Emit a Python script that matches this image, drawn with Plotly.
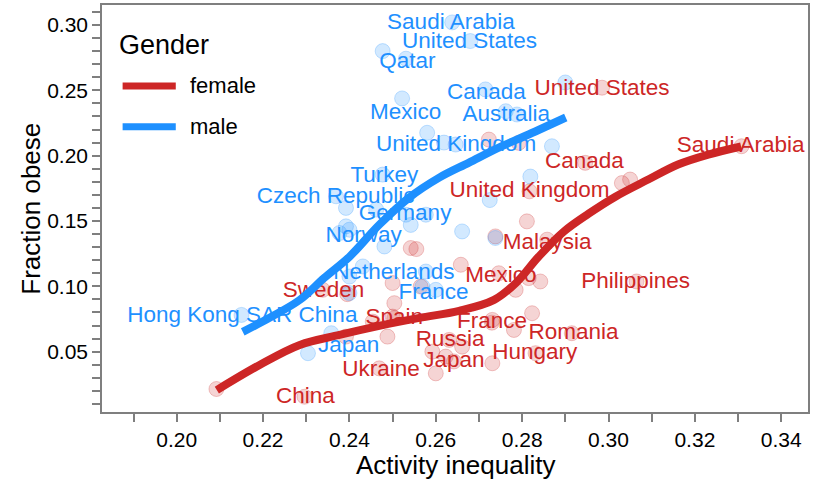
import plotly.graph_objects as go

# colours from the reference
RED = "#CD2626"
BLUE = "#1E90FF"
FONT = "Liberation Sans, Arial, sans-serif"

# --- female (red) points: activity inequality vs fraction obese ---
female_x = [0.2985, 0.3308, 0.2946, 0.2817, 0.2858, 0.2746, 0.3065, 0.2338, 0.2504, 0.2730,
            0.2915, 0.2631, 0.2831, 0.2642, 0.2469, 0.2296, 0.2092, 0.2723, 0.2792, 0.3031,
            0.3050, 0.2542, 0.2555, 0.2738, 0.2811, 0.2658, 0.2815, 0.2842, 0.2785, 0.2500,
            0.2565, 0.2504, 0.2500, 0.2454, 0.2488, 0.2731, 0.2823, 0.2781, 0.2661, 0.2592,
            0.2623, 0.2731, 0.2600, 0.2392, 0.2395]
female_y = [0.2520, 0.2072, 0.1945, 0.1727, 0.1357, 0.1100, 0.1037, 0.0973, 0.0756, 0.0722,
            0.0641, 0.0590, 0.0488, 0.0425, 0.0372, 0.0155, 0.0214, 0.2123, 0.2098, 0.1790,
            0.1817, 0.1293, 0.1285, 0.1382, 0.1497, 0.1165, 0.1063, 0.1037, 0.0973, 0.1025,
            0.0998, 0.0871, 0.0768, 0.0730, 0.0615, 0.0743, 0.0794, 0.0666, 0.0538, 0.0500,
            0.0462, 0.0411, 0.0334, 0.0615, 0.0940]

# --- male (blue) points ---
male_x = [0.2638, 0.2680, 0.2477, 0.2531, 0.2900, 0.2715, 0.2522, 0.2762, 0.2788, 0.2580,
          0.2619, 0.2646, 0.2869, 0.2819, 0.2477, 0.2369, 0.2462, 0.2531, 0.2577, 0.2542,
          0.2400, 0.2392, 0.2377, 0.2661, 0.2481, 0.2725, 0.2738, 0.2577, 0.2569, 0.2600,
          0.2400, 0.2431, 0.2400, 0.2150, 0.2358, 0.2304, 0.2392]
male_y = [0.3020, 0.2877, 0.2800, 0.2742, 0.2560, 0.2507, 0.2438, 0.2340, 0.2315, 0.2175,
          0.2100, 0.2085, 0.2072, 0.1840, 0.1855, 0.1689, 0.1587, 0.1548, 0.1548, 0.1470,
          0.1433, 0.1459, 0.1408, 0.1420, 0.1305, 0.1660, 0.1370, 0.1113, 0.0998, 0.0973,
          0.1075, 0.1152, 0.0948, 0.0781, 0.0641, 0.0488, 0.1600]

# --- country labels ---
female_labels = ["United States", "Saudi Arabia", "Canada", "United Kingdom", "Malaysia",
                 "Mexico", "Philippines", "Sweden", "Spain", "France", "Romania", "Russia",
                 "Hungary", "Japan", "Ukraine", "China"]
female_label_x = [0.2985, 0.3306, 0.2944, 0.2817, 0.2858, 0.2751, 0.3063, 0.2340, 0.2504,
                  0.2730, 0.2919, 0.2633, 0.2829, 0.2642, 0.2473, 0.2298]
female_label_y = [0.2507, 0.2072, 0.1945, 0.1727, 0.1331, 0.1075, 0.1029, 0.0960, 0.0756,
                  0.0722, 0.0636, 0.0584, 0.0488, 0.0423, 0.0360, 0.0150]

male_labels = ["Saudi Arabia", "United States", "Qatar", "Canada", "Mexico", "Australia",
               "United Kingdom", "Turkey", "Czech Republic", "Germany", "Norway",
               "Netherlands", "France", "Hong Kong SAR China", "Japan"]
male_label_x = [0.2635, 0.2678, 0.2534, 0.2717, 0.2530, 0.2763, 0.2647, 0.2481, 0.2368,
                0.2529, 0.2433, 0.2503, 0.2595, 0.2152, 0.2398]
male_label_y = [0.3014, 0.2870, 0.2712, 0.2476, 0.2320, 0.2307, 0.2080, 0.1842, 0.1684,
                0.1548, 0.1382, 0.1101, 0.0948, 0.0768, 0.0538]

# --- smoothed trend lines ---
female_fit_x = [0.2093, 0.2192, 0.2285, 0.2377, 0.2469, 0.2562, 0.2654, 0.2735, 0.2786,
                0.2838, 0.2896, 0.2954, 0.3016, 0.3092, 0.3161, 0.3231, 0.3307]
female_fit_y = [0.0206, 0.0398, 0.0551, 0.0628, 0.0697, 0.0758, 0.0812, 0.0896, 0.1027,
                0.1226, 0.1418, 0.1556, 0.1686, 0.1817, 0.1932, 0.2008, 0.2070]
male_fit_x = [0.2153, 0.2215, 0.2285, 0.2342, 0.2400, 0.2469, 0.2538, 0.2608, 0.2677,
              0.2746, 0.2815, 0.2901]
male_fit_y = [0.0651, 0.0759, 0.0896, 0.1065, 0.1226, 0.1471, 0.1678, 0.1832, 0.1947,
              0.2062, 0.2162, 0.2292]

genders = ["female", "male"]
gender_colors = [RED, BLUE]

fig = go.Figure()

# points
for xs, ys, rgb in [(female_x, female_y, "205,38,38"), (male_x, male_y, "30,144,255")]:
    fig.add_trace(go.Scatter(
        x=xs, y=ys, mode="markers", showlegend=False, hoverinfo="skip",
        marker=dict(size=15, color="rgba({},0.2)".format(rgb),
                    line=dict(width=1, color="rgba({},0.25)".format(rgb)))))

# labels
for names, xs, ys, col in [(female_labels, female_label_x, female_label_y, RED),
                           (male_labels, male_label_x, male_label_y, BLUE)]:
    fig.add_trace(go.Scatter(
        x=xs, y=ys, text=names, mode="text", showlegend=False, hoverinfo="skip",
        textposition="middle center",
        textfont=dict(family=FONT, size=22.5, color=col)))

# trend lines
fig.add_trace(go.Scatter(x=female_fit_x, y=female_fit_y, mode="lines", showlegend=False,
                         line=dict(color=RED, width=8, shape="spline")))
fig.add_trace(go.Scatter(x=male_fit_x, y=male_fit_y, mode="lines", showlegend=False,
                         line=dict(color=BLUE, width=8, shape="spline")))

# legend drawn by hand so the key lines get ggplot-like length and spacing
fig.add_annotation(x=0.0208, y=0.9017, xref="paper", yref="paper", text="Gender",
                   showarrow=False, xanchor="left", yanchor="middle",
                   font=dict(family=FONT, size=27, color="black"))
for i, (g, col) in enumerate(zip(genders, gender_colors)):
    ky = 0.801 - i * 0.1
    fig.add_shape(type="line", xref="paper", yref="paper", x0=0.0292, x1=0.1045,
                  y0=ky, y1=ky, line=dict(color=col, width=7))
    fig.add_annotation(x=0.1219, y=ky, xref="paper", yref="paper", text=g,
                       showarrow=False, xanchor="left", yanchor="middle",
                       font=dict(family=FONT, size=22, color="black"))

# axis titles
fig.add_annotation(x=0.5, y=-0.1302, xref="paper", yref="paper", text="Activity inequality",
                   showarrow=False, xanchor="center", yanchor="middle",
                   font=dict(family=FONT, size=26, color="black"))
fig.add_annotation(x=-0.1017, y=0.5, xref="paper", yref="paper", text="Fraction obese",
                   showarrow=False, xanchor="center", yanchor="middle", textangle=-90,
                   font=dict(family=FONT, size=26, color="black"))

axis_common = dict(
    showgrid=False, zeroline=False, showline=True, mirror=True,
    linecolor="#7f7f7f", linewidth=1.5,
    ticks="outside", ticklen=8, tickwidth=1.5, tickcolor="#7f7f7f",
    tickfont=dict(family=FONT, size=21, color="black"),
)

fig.update_xaxes(**axis_common, range=[0.1827, 0.3462], tick0=0.2, dtick=0.02,
                 tickformat=".2f",
                 minor=dict(ticks="outside", dtick=0.01, tick0=0.19, ticklen=8,
                            tickwidth=1.5, tickcolor="#7f7f7f"))
fig.update_yaxes(**axis_common, range=[0.0038, 0.3153], tick0=0.05, dtick=0.05,
                 tickformat=".2f",
                 minor=dict(ticks="outside", dtick=0.01, ticklen=8,
                            tickwidth=1.5, tickcolor="#7f7f7f"))

fig.update_layout(
    width=813, height=485,
    margin=dict(l=102, r=3, t=5, b=73),
    plot_bgcolor="white", paper_bgcolor="white",
    showlegend=False,
    font=dict(family=FONT),
)

# drop the browser's default body margin so the figure sits at the window corner
fig.write_html("out.html", config={"displayModeBar": False},
               post_script="document.body.style.margin='0px';")
